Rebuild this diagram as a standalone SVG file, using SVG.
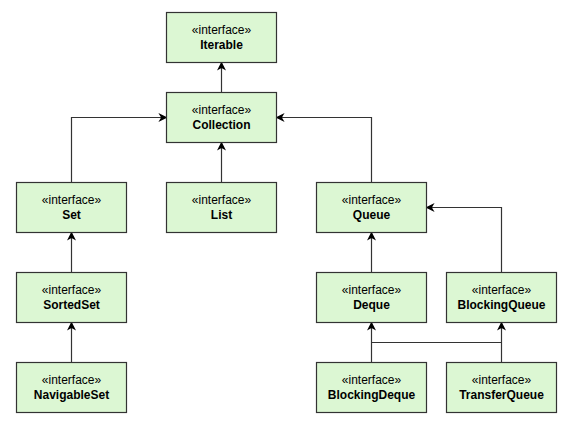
<svg xmlns="http://www.w3.org/2000/svg" width="568" height="440" viewBox="0 0 568 440">
<defs>
<style>
.box{fill:#dcf7d3;stroke:#333333;stroke-width:1.2}
.st{font-family:"Liberation Sans",Arial,sans-serif;font-size:12px;fill:#000;text-anchor:middle}
.nm{font-family:"Liberation Sans",Arial,sans-serif;font-size:12px;font-weight:bold;fill:#000;text-anchor:middle}
.ln{fill:none;stroke:#333333;stroke-width:1.2}
</style>
<marker id="arr" viewBox="0 0 10 10" refX="9" refY="5" markerWidth="9" markerHeight="9" markerUnits="userSpaceOnUse" orient="auto">
<path d="M0,0 L10,5 L0,10 L3,5 Z" fill="#000"/>
</marker>
</defs>
<rect width="568" height="440" fill="#fff"/>
<g id="connectors">
<path class="ln" d="M221.5,92.5 V62.5" marker-end="url(#arr)"/>
<path class="ln" d="M71.5,182.5 V117.5 H166.5" marker-end="url(#arr)"/>
<path class="ln" d="M221.5,182.5 V142.5" marker-end="url(#arr)"/>
<path class="ln" d="M371.5,182.5 V117.5 H276.5" marker-end="url(#arr)"/>
<path class="ln" d="M71.5,272.5 V232.5" marker-end="url(#arr)"/>
<path class="ln" d="M71.5,362.5 V322.5" marker-end="url(#arr)"/>
<path class="ln" d="M371.5,272.5 V232.5" marker-end="url(#arr)"/>
<path class="ln" d="M501.5,272.5 V207.5 H426.5" marker-end="url(#arr)"/>
<path class="ln" d="M371.5,362.5 V322.5" marker-end="url(#arr)"/>
<path class="ln" d="M501.5,362.5 V322.5" marker-end="url(#arr)"/>
<path class="ln" d="M371.5,342.5 H501.5"/>
</g>
<g id="Iterable"><rect class="box" x="166.5" y="12.5" width="110" height="50"/><text class="st" x="221.5" y="34">«interface»</text><text class="nm" x="221.5" y="49">Iterable</text></g>
<g id="Collection"><rect class="box" x="166.5" y="92.5" width="110" height="50"/><text class="st" x="221.5" y="114">«interface»</text><text class="nm" x="221.5" y="129">Collection</text></g>
<g id="Set"><rect class="box" x="16.5" y="182.5" width="110" height="50"/><text class="st" x="71.5" y="204">«interface»</text><text class="nm" x="71.5" y="219">Set</text></g>
<g id="List"><rect class="box" x="166.5" y="182.5" width="110" height="50"/><text class="st" x="221.5" y="204">«interface»</text><text class="nm" x="221.5" y="219">List</text></g>
<g id="Queue"><rect class="box" x="316.5" y="182.5" width="110" height="50"/><text class="st" x="371.5" y="204">«interface»</text><text class="nm" x="371.5" y="219">Queue</text></g>
<g id="SortedSet"><rect class="box" x="16.5" y="272.5" width="110" height="50"/><text class="st" x="71.5" y="294">«interface»</text><text class="nm" x="71.5" y="309">SortedSet</text></g>
<g id="Deque"><rect class="box" x="316.5" y="272.5" width="110" height="50"/><text class="st" x="371.5" y="294">«interface»</text><text class="nm" x="371.5" y="309">Deque</text></g>
<g id="BlockingQueue"><rect class="box" x="446.5" y="272.5" width="110" height="50"/><text class="st" x="501.5" y="294">«interface»</text><text class="nm" x="501.5" y="309">BlockingQueue</text></g>
<g id="NavigableSet"><rect class="box" x="16.5" y="362.5" width="110" height="50"/><text class="st" x="71.5" y="384">«interface»</text><text class="nm" x="71.5" y="399">NavigableSet</text></g>
<g id="BlockingDeque"><rect class="box" x="316.5" y="362.5" width="110" height="50"/><text class="st" x="371.5" y="384">«interface»</text><text class="nm" x="371.5" y="399">BlockingDeque</text></g>
<g id="TransferQueue"><rect class="box" x="446.5" y="362.5" width="110" height="50"/><text class="st" x="501.5" y="384">«interface»</text><text class="nm" x="501.5" y="399">TransferQueue</text></g>
</svg>
